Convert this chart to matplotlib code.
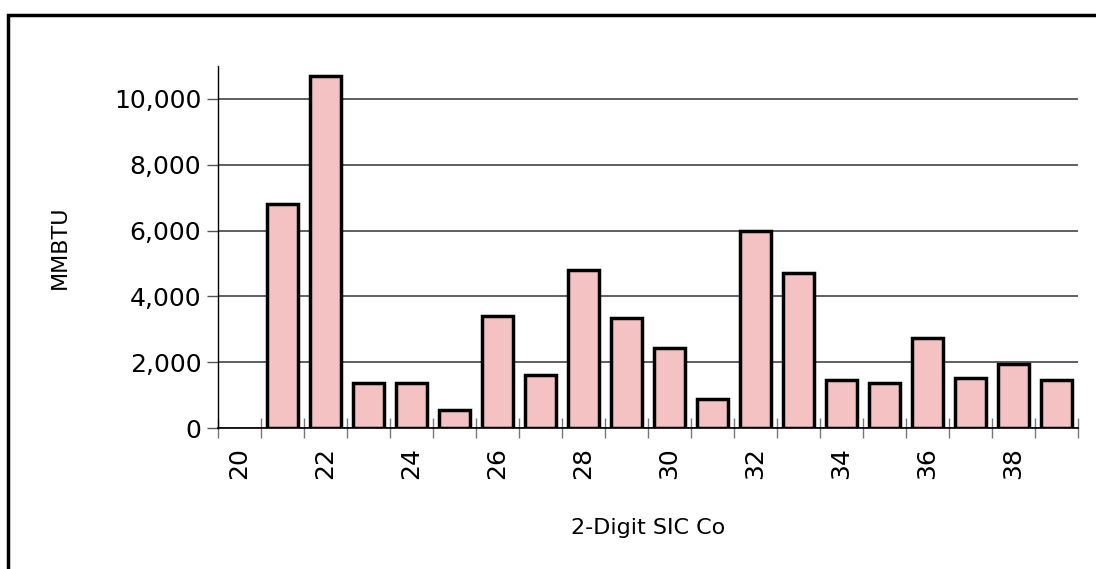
import matplotlib.pyplot as plt
from matplotlib.patches import Rectangle
from matplotlib.ticker import FuncFormatter

# 2-digit SIC codes and energy use (MMBTU)
sic_codes = list(range(20, 40))
mmbtu = [0, 6800, 10700, 1370, 1370, 560, 3400, 1600, 4790, 3330,
         2420, 880, 5990, 4700, 1450, 1380, 2750, 1520, 1940, 1450]
label_codes = [c for c in sic_codes if c % 2 == 0]

fig = plt.figure(figsize=(10.96, 5.69), dpi=100)
ax = fig.add_axes([218 / 1096, 1 - 428 / 569, 860 / 1096, 362 / 569])

# skip empty categories so no flat outline is drawn
pos = [c - sic_codes[0] for c, v in zip(sic_codes, mmbtu) if v > 0]
vals = [v for v in mmbtu if v > 0]
ax.bar(pos, vals, width=0.7, color='#f4c2c2', edgecolor='black',
       linewidth=2.5, zorder=3)

ax.set_xlim(-0.5, len(sic_codes) - 0.5)
ax.set_ylim(0, 11000)

# grid + y axis
ax.set_yticks(range(0, 11000, 2000))
ax.yaxis.set_major_formatter(FuncFormatter(lambda v, p: f'{int(v):,}'))
ax.grid(axis='y', color='#444444', linewidth=1.2, zorder=0)
ax.tick_params(axis='y', length=8, width=1, color='#555555',
               labelsize=18, pad=4)

# x axis: labels at even codes, ticks on category boundaries
ax.set_xticks([c - sic_codes[0] for c in label_codes])
ax.set_xticklabels([str(c) for c in label_codes], rotation=90)
ax.tick_params(axis='x', which='major', length=0, labelsize=18, pad=14)
ax.set_xticks([p - 0.5 for p in range(len(sic_codes) + 1)], minor=True)
ax.tick_params(axis='x', which='minor', direction='inout', length=14,
               width=1, color='#777777')

for s in ['top', 'right']:
    ax.spines[s].set_visible(False)
ax.spines['left'].set_linewidth(1)
ax.spines['bottom'].set_linewidth(1.2)

ax.set_ylabel('MMBTU', fontsize=16, labelpad=32)
ax.set_xlabel('2-Digit SIC Co', fontsize=16, labelpad=28)

# outer frame (runs off the right and bottom edges)
fig.patches.append(Rectangle((8 / 1096, -0.1), 1.2, 1.1 - 15 / 569,
                             transform=fig.transFigure, fill=False,
                             edgecolor='black', linewidth=2.5))

fig.savefig('out.png', dpi=100)
